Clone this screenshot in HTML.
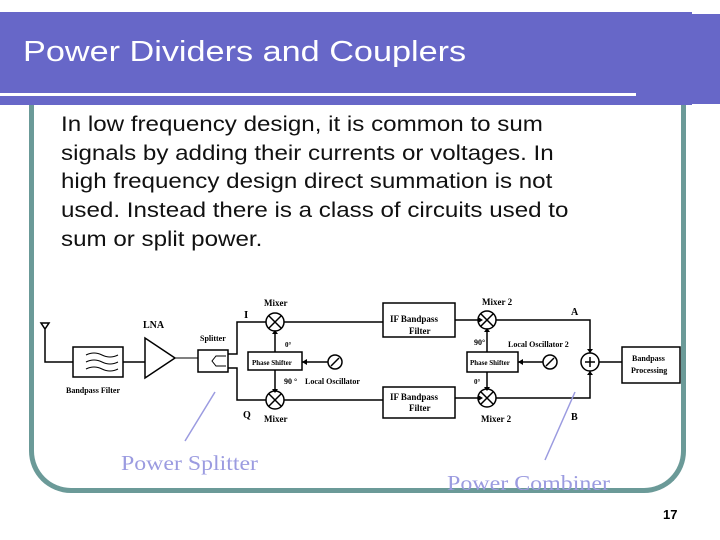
<!DOCTYPE html>
<html><head><meta charset="utf-8"><style>
body{margin:0;width:720px;height:540px;background:#fff;position:relative;overflow:hidden;font-family:"Liberation Sans",sans-serif}
.ban{position:absolute;left:0;top:12px;width:692px;height:93px;background:#6767c8}
.ban2{position:absolute;left:690px;top:14px;width:30px;height:90px;background:#6767c8}
.wl{position:absolute;left:0;top:93px;width:636px;height:3px;background:#fff}
.title{position:absolute;left:23px;top:36px;color:#fff;font-size:29px;transform:scaleX(1.18);transform-origin:0 0;white-space:nowrap}
.frame{position:absolute;left:29px;top:60px;width:647px;height:428px;border:5px solid #6b9a98;border-top:none;border-radius:0 0 42px 42px}
.txt{position:absolute;left:61px;top:111px;font-size:21px;line-height:28.7px;color:#111;transform:scaleX(1.15);transform-origin:0 0;white-space:nowrap}
.num{position:absolute;left:663px;top:507px;font-size:13px;font-weight:bold}
</style></head><body>
<div class="frame"></div>
<div class="ban"></div><div class="ban2"></div><div class="wl"></div>
<div class="title">Power Dividers and Couplers</div>
<div class="txt">In low frequency design, it is common to sum<br>signals by adding their currents or voltages. In<br>high frequency design direct summation is not<br>used. Instead there is a class of circuits used to<br>sum or split power.</div>
<svg style="position:absolute;left:0;top:0" width="720" height="540" font-family="Liberation Serif,serif" font-weight="bold" font-size="9">
<g stroke="#000" stroke-width="1.5" fill="none">
<path d="M41 323h8l-4 6z M45 329v33h28"/>
<rect x="73" y="347" width="50" height="30"/>
<path d="M86 355q8-4 16 0t16 0M86 362q8-4 16 0t16 0M86 369q8-4 16 0t16 0" stroke-width="1"/>
<path d="M123 362h22M145 338v40l30-20z"/>
<path d="M175 358h23" stroke-width="1"/>
<rect x="198" y="350" width="30" height="22"/>
<path d="M226 356h-10l-4 5 4 5h10" stroke-width="1"/>
<path d="M228 354h9v-32h29M228 368h9v32h29"/>
<circle cx="275" cy="322" r="9"/><path d="M269 316l12 12M281 316l-12 12"/>
<circle cx="275" cy="400" r="9"/><path d="M269 394l12 12M281 394l-12 12"/>
<path d="M284 322h99M284 400h99"/>
<rect x="248" y="352" width="54" height="18"/>
<path d="M275 352v-21M275 370v21M302 362h26"/>
<circle cx="335" cy="362" r="7"/><path d="M331 366l8-8"/>
<rect x="383" y="303" width="72" height="34"/>
<rect x="383" y="387" width="72" height="31"/>
<path d="M455 320h23M455 398h23"/>
<circle cx="487" cy="320" r="9"/><path d="M481 314l12 12M493 314l-12 12"/>
<circle cx="487" cy="398" r="9"/><path d="M481 392l12 12M493 392l-12 12"/>
<rect x="467" y="352" width="51" height="20"/>
<path d="M487 352v-23M487 372v17M518 362h25"/>
<circle cx="550" cy="362" r="7"/><path d="M546 366l8-8"/>
<path d="M496 320h94v33M496 398h94v-27"/>
<circle cx="590" cy="362" r="9"/><path d="M590 357v10M585 362h10"/>
<path d="M599 362h23"/>
<rect x="622" y="347" width="58" height="36"/>
</g>
<g fill="#000">
<path d="M272 334h6l-3-4zM272 389h6l-3 4zM484 332h6l-3-4zM484 387h6l-3 4zM302 362l5-3v6zM518 362l5-3v6zM478 317v6l5-3zM478 395v6l5-3zM587 349h6l-3 4zM587 375h6l-3-4z"/>
<text x="264" y="306">Mixer</text><text x="244" y="318" font-size="11">I</text>
<text x="143" y="328" font-size="10">LNA</text>
<text x="200" y="341" font-size="8">Splitter</text>
<text x="285" y="347" font-size="7">0°</text>
<text x="252" y="365" font-size="7">Phase Shifter</text>
<text x="284" y="384" font-size="8">90 °</text>
<text x="305" y="384" font-size="8">Local Oscillator</text>
<text x="66" y="393" font-size="8">Bandpass Filter</text>
<text x="243" y="418" font-size="10">Q</text>
<text x="264" y="422">Mixer</text>
<text x="390" y="322" font-size="9">IF Bandpass</text><text x="409" y="334" font-size="9">Filter</text>
<text x="390" y="400" font-size="9">IF Bandpass</text><text x="409" y="411" font-size="9">Filter</text>
<text x="482" y="305">Mixer 2</text><text x="481" y="422">Mixer 2</text>
<text x="571" y="315" font-size="10">A</text><text x="571" y="420" font-size="10">B</text>
<text x="474" y="345" font-size="8">90°</text>
<text x="508" y="347" font-size="8">Local Oscillator 2</text>
<text x="470" y="365" font-size="7">Phase Shifter</text>
<text x="474" y="384" font-size="7">0°</text>
<text x="632" y="361" font-size="8">Bandpass</text><text x="631" y="373" font-size="8">Processing</text>
</g>
<g stroke="#9b9be0" stroke-width="1.5"><path d="M185 441L215 392M545 460L575 392"/></g>
<g fill="#9b9be0" font-weight="normal" font-size="21"><text x="121" y="470" textLength="137" lengthAdjust="spacingAndGlyphs">Power Splitter</text><text x="447" y="490" textLength="163" lengthAdjust="spacingAndGlyphs">Power Combiner</text></g>
</svg>
<div class="num">17</div>
</body></html>
